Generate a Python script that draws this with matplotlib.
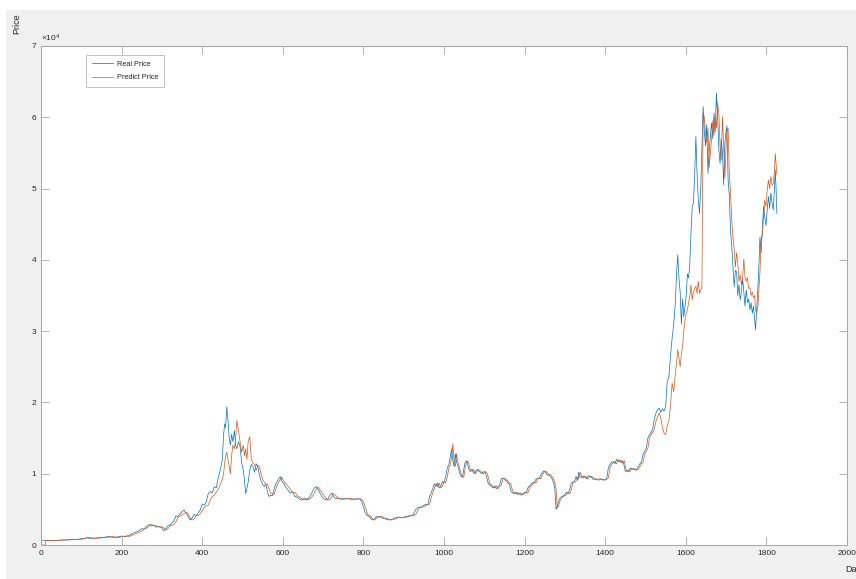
import matplotlib
matplotlib.use("Agg")
import matplotlib.pyplot as plt
from matplotlib.patches import Rectangle

plt.rcParams['font.family'] = ['Liberation Sans', 'DejaVu Sans']
plt.rcParams['mathtext.default'] = 'regular'

days = [0, 11, 12, 20, 30, 40, 50, 60, 70, 80, 90, 100, 110, 115, 120, 125, 130, 140, 150, 160,
        170, 180, 190, 200, 210, 220, 230, 240, 250, 255, 260, 265, 270, 275, 280, 285, 290, 300,
        305, 310, 315, 320, 330, 335, 340, 345, 350, 355, 360, 365, 370, 375, 380, 385, 390, 395,
        400, 405, 410, 415, 420, 425, 430, 435, 440, 445, 450, 453, 456, 458, 461, 464, 467, 470,
        473, 476, 480, 483, 486, 490, 494, 498, 502, 505, 508, 511, 514, 518, 522, 526, 530, 534,
        538, 542, 546, 550, 554, 558, 562, 566, 570, 574, 578, 582, 586, 590, 594, 598, 602, 606,
        612, 618, 624, 630, 636, 642, 648, 654, 660, 666, 672, 678, 684, 688, 692, 698, 704, 710,
        716, 722, 726, 732, 738, 744, 750, 760, 770, 780, 786, 792, 796, 800, 804, 808, 812, 816,
        820, 824, 828, 832, 836, 840, 846, 852, 858, 864, 870, 876, 882, 888, 894, 900, 906, 912,
        918, 924, 930, 936, 942, 948, 954, 960, 964, 968, 972, 976, 980, 984, 988, 992, 996, 1000,
        1004, 1008, 1012, 1016, 1019, 1022, 1025, 1028, 1031, 1034, 1037, 1040, 1043, 1046, 1049,
        1052, 1055, 1058, 1061, 1065, 1070, 1074, 1078, 1082, 1086, 1090, 1094, 1098, 1102, 1106,
        1110, 1114, 1118, 1122, 1126, 1130, 1134, 1138, 1142, 1146, 1150, 1154, 1158, 1162, 1166,
        1170, 1174, 1178, 1182, 1186, 1190, 1196, 1200, 1204, 1208, 1212, 1216, 1220, 1224, 1228,
        1232, 1236, 1240, 1244, 1248, 1252, 1256, 1260, 1264, 1268, 1272, 1275, 1278, 1281, 1284,
        1288, 1292, 1296, 1300, 1304, 1308, 1312, 1316, 1320, 1324, 1328, 1332, 1334, 1338, 1342,
        1346, 1350, 1354, 1358, 1362, 1366, 1370, 1374, 1378, 1382, 1386, 1390, 1394, 1400, 1404,
        1408, 1412, 1416, 1420, 1424, 1428, 1432, 1436, 1440, 1444, 1448, 1450, 1454, 1458, 1462,
        1466, 1470, 1474, 1478, 1482, 1486, 1490, 1494, 1498, 1502, 1506, 1510, 1514, 1518, 1522,
        1526, 1530, 1534, 1538, 1542, 1546, 1550, 1554, 1558, 1562, 1566, 1570, 1574, 1577, 1580,
        1583, 1586, 1589, 1592, 1595, 1598, 1601, 1604, 1607, 1610, 1613, 1616, 1619, 1622, 1625,
        1628, 1631, 1634, 1637, 1640, 1643, 1646, 1649, 1652, 1655, 1658, 1661, 1664, 1667, 1670,
        1673, 1676, 1679, 1682, 1685, 1688, 1691, 1694, 1697, 1700, 1702, 1705, 1708, 1711, 1714,
        1717, 1720, 1723, 1726, 1729, 1732, 1735, 1738, 1741, 1744, 1747, 1750, 1753, 1756, 1759,
        1762, 1765, 1768, 1771, 1773, 1776, 1779, 1782, 1784, 1787, 1790, 1793, 1796, 1799, 1802,
        1805, 1808, 1811, 1814, 1817, 1820, 1822, 1824, 1826]

real_price = [610, 620, 620, 610, 640, 650, 700, 720, 740, 750, 780, 900, 960, 1050, 900, 1000, 920, 1000, 1040, 1120,
              1200, 1000, 1150, 1250, 1200, 1400, 1700, 1900, 2300, 2200, 2500, 2750, 2900, 2650, 2800, 2500, 2600, 2400,
              2000, 2300, 2700, 2800, 3400, 4100, 4000, 4400, 4700, 4900, 4500, 4000, 3500, 3800, 4300, 4100, 4500, 4900,
              5700, 5600, 6000, 7200, 7500, 7300, 8200, 8000, 9500, 10500, 12000, 15500, 17000, 16500, 19400, 17500, 15000, 14000,
              15500, 14500, 16000, 14000, 13500, 14500, 13800, 11500, 10500, 9000, 7200, 8000, 8800, 10500, 11300, 11000, 10200, 11400,
              11000, 9800, 9000, 8500, 8200, 8600, 7500, 6800, 7000, 6900, 7800, 8500, 8900, 9300, 9600, 8900, 8700, 8200,
              7800, 7300, 7500, 6800, 6700, 6400, 6300, 6600, 6300, 6700, 7300, 8000, 8200, 7700, 7300, 6700, 6400, 6300,
              6900, 7300, 6800, 6500, 6600, 6400, 6500, 6500, 6400, 6450, 6500, 6400, 6100, 5400, 4600, 4200, 4100, 3900,
              3600, 3500, 3700, 4000, 3900, 4000, 3800, 3700, 3600, 3500, 3600, 3700, 3900, 3900, 3800, 3900, 4000, 4100,
              4100, 4300, 5000, 5300, 5300, 5500, 5700, 5700, 6700, 7300, 7900, 8600, 8200, 8700, 8000, 8300, 8900, 8700,
              9500, 10800, 11300, 12500, 13500, 11800, 11000, 12800, 11600, 11200, 10500, 9900, 9600, 9500, 10600,
              11500, 11800, 11500, 10700, 10300, 10600, 10000, 10300, 10600, 10400, 10200, 10000, 10300, 10200, 9500,
              8600, 8400, 8200, 8000, 8300, 7900, 8200, 8400, 9300, 9400, 9200, 9000, 8700, 8600, 7600,
              7300, 7200, 7400, 7100, 7300, 7000, 7200, 7400, 7300, 8000, 8300, 8500, 8800, 8700, 9200,
              9400, 9300, 9800, 10200, 10400, 10200, 9800, 9900, 9600, 9300, 8700, 7900, 5000, 5400, 6100,
              6600, 6800, 6900, 7100, 7400, 7200, 7800, 8700, 8800, 9000, 9600, 9100, 10200, 9600, 9400,
              9700, 9500, 9300, 9700, 9600, 9500, 9200, 9300, 9200, 9100, 9300, 9200, 9100, 9200, 9400,
              10900, 11300, 11600, 11700, 11400, 12000, 11700, 11900, 11500, 11800, 10900, 10300, 10500, 10300, 10800,
              10600, 10700, 10500, 10600, 11000, 11400, 11600, 12800, 13100, 13600, 15000, 15500, 15800, 16300, 17700,
              18500, 19000, 19200, 18600, 19100, 18800, 19400, 23000, 23500, 26500, 29000, 31000, 34000, 38000, 40700,
              37500, 35500, 31000, 34500, 32000, 33500, 35000, 38000, 37500, 39500, 44000, 47500, 48000, 52000, 57300,
              52000, 48500, 46500, 50000, 56000, 61500, 58000, 56000, 59000, 52100, 55000, 57500, 59200, 57000, 60600,
              58000, 63400, 60000, 55500, 53500, 57000, 55000, 50500, 56500, 58000, 58800, 51200, 49000, 44000, 42000,
              39000, 36200, 38500, 38300, 35000, 36500, 34400, 35500, 37300, 35500, 33500, 35800, 34000, 34500, 33000,
              34000, 32500, 33500, 31500, 30200, 33000, 36200, 40000, 43200, 41000, 44500, 47500, 46000, 44800, 47000,
              48900, 47200, 49400, 48000, 47000, 50000, 52600, 50000, 46500]

predict_price = [0, 0, 620, 615, 615, 640, 660, 700, 720, 740, 760, 800, 900, 1000, 1080, 920, 990, 940, 1000, 1050,
                 1130, 1180, 1020, 1140, 1240, 1220, 1450, 1700, 1950, 2250, 2250, 2500, 2700, 2850, 2700, 2750, 2550, 2550,
                 2400, 2100, 2300, 2650, 2900, 3300, 3900, 4000, 4300, 4400, 4600, 4400, 3800, 3500, 3700, 4100, 4100, 4400,
                 4800, 5300, 5500, 5600, 6300, 6800, 7000, 7400, 7800, 8500, 9200, 10000, 11500, 12500, 13000, 12000, 11000, 10000,
                 12500, 14000, 13500, 15000, 17500, 16000, 14500, 13000, 14000, 12500, 13500, 12000, 14500, 15200, 12000, 11500, 11300, 10500,
                 11200, 11000, 10000, 9200, 8800, 8400, 8500, 7900, 7300, 7200, 7100, 7700, 8400, 8800, 9200, 9500, 9000, 8700,
                 8300, 7900, 7400, 7400, 6900, 6700, 6500, 6300, 6500, 6400, 6700, 7300, 7900, 8100, 7700, 7300, 6800, 6400,
                 6300, 6800, 7200, 6900, 6500, 6600, 6400, 6500, 6500, 6400, 6450, 6500, 6400, 6100, 5400, 4700, 4200, 4100,
                 3900, 3600, 3500, 3700, 4000, 3900, 4000, 3800, 3700, 3600, 3500, 3600, 3700, 3900, 3900, 3800, 3900, 4000,
                 4100, 4100, 4300, 5000, 5300, 5300, 5500, 5700, 5700, 6600, 7300, 7900, 8600, 8200, 8700, 8000, 8300, 8900,
                 8700, 9500, 10800, 11300, 12500, 14200, 11800, 11000, 12800, 11600, 11200, 10500, 9900, 9600, 9500,
                 10600, 11500, 11800, 11500, 10700, 10300, 10600, 10000, 10300, 10600, 10400, 10200, 10000, 10300, 10200,
                 9500, 8600, 8400, 8200, 8000, 8300, 7900, 8200, 8400, 9300, 9400, 9200, 9000, 8700, 8600,
                 7600, 7300, 7200, 7400, 7100, 7300, 7000, 7200, 7400, 7300, 8000, 8300, 8500, 8800, 8700,
                 9200, 9400, 9300, 9800, 10200, 10400, 10200, 9800, 9900, 9600, 9300, 8700, 7900, 5200, 5500,
                 6200, 6600, 6800, 6900, 7100, 7400, 7200, 7800, 8700, 8800, 9000, 9600, 9300, 10200, 9600,
                 9400, 9700, 9500, 9300, 9700, 9600, 9500, 9200, 9300, 9200, 9100, 9300, 9200, 9100, 9200,
                 9400, 10900, 11300, 11600, 11700, 11400, 12000, 11700, 11900, 11500, 11800, 10900, 10300, 10500, 10300,
                 10800, 10600, 10700, 10500, 10600, 11000, 11400, 11600, 12800, 13100, 13600, 15000, 15500, 15800, 16300,
                 17400, 18000, 18500, 17800, 16500, 15700, 15500, 16800, 17400, 19500, 22700, 21500, 24000, 25500, 27400,
                 26300, 25000, 26800, 27800, 30000, 31500, 32500, 33000, 34000, 34800, 36500, 34400, 35500, 36000, 36300,
                 35300, 37000, 35300, 35800, 36000, 60600, 60000, 57500, 56500, 58500, 53000, 55000, 57000, 59500, 57500,
                 60000, 58500, 62000, 60500, 56000, 54000, 60100, 55500, 51500, 56000, 58000, 58500, 52000, 49500, 45500,
                 43200, 41500, 39000, 41000, 39500, 37000, 37900, 36500, 37500, 40100, 37500, 37000, 37500, 36000, 36100,
                 35000, 35500, 34700, 35000, 33000, 32500, 33500, 36500, 38300, 42800, 43500, 46000, 48400, 47500, 49800,
                 51200, 50000, 51700, 50500, 50700, 52500, 54900, 53500, 52000]

legend_labels = ["Real Price", "Predict Price"]
x_ticks = list(range(0, 2001, 200))
y_ticks = [0, 10000, 20000, 30000, 40000, 50000, 60000, 70000]
y_tick_labels = ["0", "1", "2", "3", "4", "5", "6", "7"]

W, H = 856, 579
fig = plt.figure(figsize=(W / 100, H / 100), dpi=100, facecolor="white")
fig.patches.append(Rectangle((6 / W, 0), 1, (H - 10) / H, transform=fig.transFigure,
                             facecolor="#f0f0f0", edgecolor="none", zorder=-10))

ax = fig.add_axes([41 / W, (H - 545) / H, (847 - 41) / W, (545 - 46) / H])
ax.set_facecolor("white")

ax.plot(days, real_price, color="#0072BD", lw=0.5, label=legend_labels[0])
ax.plot(days, predict_price, color="#D95319", lw=0.5, label=legend_labels[1])

ax.set_xlim(0, 2000)
ax.set_ylim(0, 70000)
ax.set_xticks(x_ticks)
ax.set_xticklabels([str(t) for t in x_ticks])
ax.set_yticks(y_ticks)
ax.set_yticklabels(y_tick_labels)

spine_col = "#a6a6a6"
for s in ax.spines.values():
    s.set_color(spine_col)
    s.set_linewidth(0.7)
ax.tick_params(direction="in", length=5.5, width=0.6, color=spine_col,
               labelsize=6, labelcolor="#262626", top=True, right=True, pad=3.5)

ax.text(0.0, 1.004, r"$\times10^{4}$", transform=ax.transAxes, fontsize=6,
        color="#262626", ha="left", va="bottom")

fig.text(17 / W, 1 - 24 / H, "Price", rotation=90, fontsize=6.5, color="#262626",
         ha="center", va="center")
fig.text(845 / W, 1 - 569 / H, "Days", fontsize=6.5, color="#262626",
         ha="left", va="center")

leg = ax.legend(loc="upper left", bbox_to_anchor=((86 - 41) / (847 - 41), 1 - (55 - 46) / (545 - 46)),
                fontsize=5.3, frameon=True, fancybox=False, borderaxespad=0,
                handlelength=2.8, handletextpad=0.6, borderpad=0.8, labelspacing=0.8)
leg.get_frame().set_edgecolor("#a6a6a6")
leg.get_frame().set_linewidth(0.6)
for t in leg.get_texts():
    t.set_color("#262626")

fig.savefig("out.png", dpi=100, facecolor=fig.get_facecolor())
